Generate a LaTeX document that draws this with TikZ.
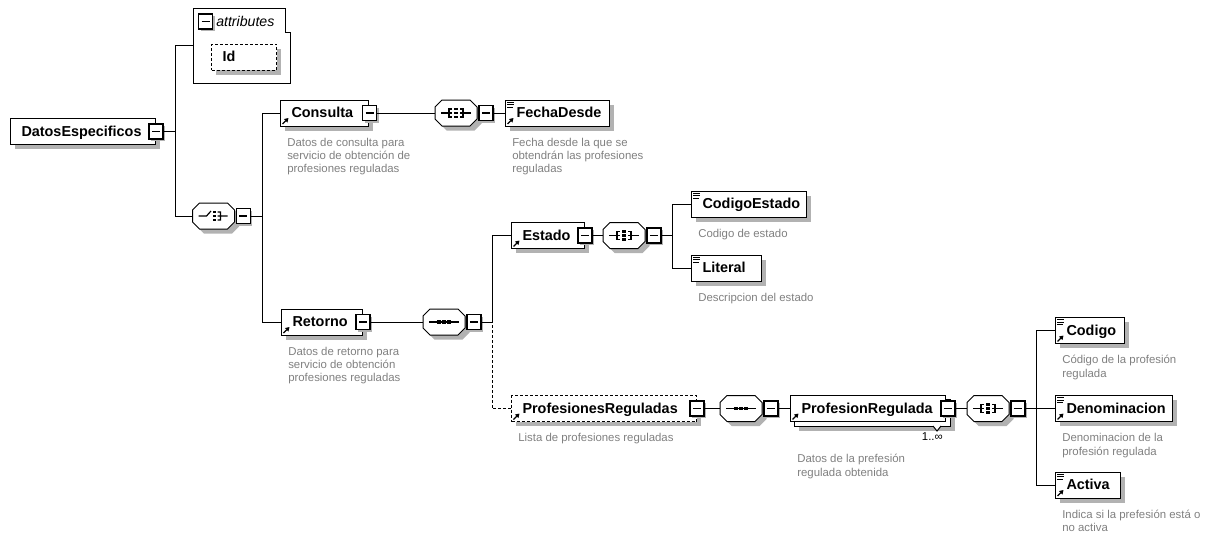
\documentclass[tikz,border=0pt]{standalone}
\usepackage{fontspec}
\setmainfont{Liberation Sans}
\usetikzlibrary{positioning}
\usetikzlibrary{shadows,arrows.meta,backgrounds}

\definecolor{shadowgray}{RGB}{178,178,178}
\definecolor{descgray}{RGB}{128,128,128}

\tikzset{
  elembase/.style={draw, fill=white, line width=0.75pt, anchor=west,
    minimum height=19.5pt, inner xsep=8.25pt, inner ysep=0pt,
    text width=#1, align=left, text height=7.8pt, text depth=0.5pt,
    execute at begin node={\hyphenpenalty=10000},
    font=\fontsize{10.8}{12}\selectfont\bfseries},
  elem/.style={elembase=#1,
    drop shadow={shadow xshift=3.4pt, shadow yshift=-3.4pt, fill=shadowgray, opacity=1}},
  optional/.style={dash pattern=on 2.25pt off 1.5pt},
  minus/.style={draw, fill=white, line width=1pt, minimum width=10.5pt,
    minimum height=11.25pt, inner sep=0pt,
    drop shadow={shadow xshift=1.5pt, shadow yshift=-1.5pt, fill=shadowgray, opacity=1},
    path picture={\draw[line width=1pt]
      ([xshift=2.25pt]path picture bounding box.west) --
      ([xshift=-2.25pt]path picture bounding box.east);}},
  desc/.style={inner sep=0pt, align=left, text=descgray,
    font=\fontsize{8.55}{10.1}\selectfont},
  link/.style={line width=0.75pt},
  pics/octa/.style={code={
    \fill[shadowgray, shift={(4.5,4.5)}] (-21,-6) -- (-14,-13) -- (14,-13) -- (21,-6)
      -- (21,6) -- (14,13) -- (-14,13) -- (-21,6) -- cycle;
    \draw[link, fill=white] (-21,-6) -- (-14,-13) -- (14,-13) -- (21,-6)
      -- (21,6) -- (14,13) -- (-14,13) -- (-21,6) -- cycle;
    \node[inner sep=0pt, minimum width=31.5pt, minimum height=19.5pt] (-b) {};
    \pic {#1};
  }},
  pics/seqicon/.style={code={
    \draw[line width=0.9pt] (-15,0) -- (15,0);
    \foreach \dx in {-5,0,5} \fill (\dx-1.6,-1.6) rectangle (\dx+1.6,1.6);
  }},
  pics/allicon/.style={code={
    \draw[line width=0.9pt] (-15,0) -- (-4,0) (-4,-4) -- (-7,-4) -- (-7,4) -- (-4,4)
      (15,0) -- (4,0) (4,-4) -- (7,-4) -- (7,4) -- (4,4);
    \foreach \dy in {-4,0,4} \fill (-1.6,\dy-1.4) rectangle (1.6,\dy+1.4);
  }},
  pics/choiceicon/.style={code={
    \draw[line width=0.9pt] (-15,0) -- (-7,0) -- (-2.5,-5) (4,-4) -- (7,-4) -- (7,4) -- (4,4)
      (4,0) -- (14,0);
    \foreach \dy in {-4,0,4} \fill (-0.5,\dy-1.4) rectangle (2.7,\dy+1.4);
  }},
  pics/refarrow/.style={code={
    \draw[line width=1pt, -{Triangle[length=3pt,width=3.5pt]}] (2.5,-2.5) -- (8.5,-8.5);
  }},
  pics/simpleicon/.style={code={
    \draw[line width=0.6pt] (2,2.5) -- (9,2.5) (2,5) -- (9,5) (2,7.5) -- (8,7.5);
  }}
}

\begin{document}
\begin{tikzpicture}[x=0.75pt, y=-0.75pt]
  \useasboundingbox (0,0) rectangle (1212,536);

  % root element and its attributes
  \node[elem=92.25pt] (datos) at (10,131.5) {DatosEspecificos};
  \node[minus] (datos-m) at (datos.east) {};

  \node[anchor=north west, inner sep=0pt, minimum width=72.75pt, minimum height=56.25pt] (attr) at (193,8) {};
  \draw[link, fill=white] (attr.north west) -- ++(92,0) -- ++(0,24) -- ++(5,0) |- (attr.south west) -- cycle;
  \node[minus] (attr-m) at (205.5,21.5) {};
  \node[anchor=west, inner sep=0pt, font=\fontsize{10.6}{12}\selectfont\itshape] (attr-t) at (216,21) {attributes};
  \node[elem=32.25pt, optional] (id) at (211,57) {Id};

  \pic (ch) at (213.5,216) {octa=choiceicon};
  \node[minus, right=0.75pt of ch-b] (ch-m) {};

  \coordinate (t1) at (175,131.5);
  \draw[link] (datos-m.east) -- (t1) (attr.west) -| (t1) (ch-b.west) -| (t1);

  % Consulta
  \node[elem=49.5pt] (consulta) at (280,113) {Consulta};
  \node[minus] (consulta-m) at ([xshift=0.375pt]consulta.east) {};
  \pic (c1) at (456,113) {octa=allicon};
  \node[minus, right=0.75pt of c1-b] (c1-m) {};
  \node[elem=61.5pt] (fecha) at (505,113) {FechaDesde};

  % Retorno
  \node[elem=44.25pt] (retorno) at (281,322) {Retorno};
  \node[minus] (retorno-m) at (retorno.east) {};
  \pic (c2) at (444,322) {octa=seqicon};
  \node[minus, right=0.75pt of c2-b] (c2-m) {};

  \coordinate (t2) at (262,216);
  \draw[link] (ch-m.east) -- (t2) (consulta.west) -| (t2) (retorno.west) -| (t2);
  \draw[link] (consulta-m.east) -- (c1-b.west) (c1-m.east) -- (fecha.west);
  \draw[link] (retorno-m.east) -- (c2-b.west);

  % Estado
  \node[elem=38.25pt] (estado) at (511,235.5) {Estado};
  \node[minus] (estado-m) at (estado.east) {};
  \pic (c3) at (624,235.5) {octa=allicon};
  \node[minus, right=0.75pt of c3-b] (c3-m) {};
  \node[elem=69.75pt] (codest) at (691,204) {CodigoEstado};
  \node[elem=36pt] (literal) at (691,268) {Literal};

  \coordinate (t4) at (672,235.5);
  \draw[link] (estado-m.east) -- (c3-b.west) (c3-m.east) -- (t4)
    (codest.west) -| (t4) (literal.west) -| (t4);

  % ProfesionesReguladas
  \node[elem=122.25pt, optional] (profs) at (511,408.5) {ProfesionesReguladas};
  \node[minus] (profs-m) at (profs.east) {};
  \pic (c4) at (741,408.5) {octa=seqicon};
  \node[minus, right=0.75pt of c4-b] (c4-m) {};

  \coordinate (t3) at (492,322);
  \draw[link] (c2-m.east) -- (t3) (estado.west) -| (t3);
  \draw[link, optional] (profs.west) -| (t3);

  % ProfesionRegulada (1..unbounded)
  \node[elembase=99.75pt] (profr) at (790,408.5) {ProfesionRegulada};
  \begin{scope}[on background layer]
    \draw[link, fill=white, drop shadow={shadow xshift=3.4pt, shadow yshift=-3.4pt, fill=shadowgray, opacity=1}]
      ([shift={(4,4)}]profr.north west) rectangle ([shift={(4,4)}]profr.south east);
  \end{scope}
  \draw[link, fill=white] ([shift={(-13,4)}]profr.south east) -- ++(4,5) -- ++(4,-5);
  \node[minus] (profr-m) at ([xshift=1.5pt]profr.east) {};
  \node[anchor=north east, inner sep=0pt, font=\fontsize{8.55}{10}\selectfont] (profr-n)
    at ([shift={(-3,10)}]profr.south east) {1..∞};
  \pic (c5) at (988,408.5) {octa=allicon};
  \node[minus, right=0.75pt of c5-b] (c5-m) {};

  \draw[link] (profs-m.east) -- (c4-b.west) (c4-m.east) -- (profr.west)
    (profr-m.east) -- (c5-b.west);

  \node[elem=35.25pt] (codigo) at (1055,330.5) {Codigo};
  \node[elem=71.25pt] (denom) at (1055,408.5) {Denominacion};
  \node[elem=32.25pt] (activa) at (1055,485) {Activa};

  \coordinate (t5) at (1036,408.5);
  \draw[link] (c5-m.east) -- (t5) (codigo.west) -| (t5) (denom.west) -| (t5)
    (activa.west) -| (t5);

  % icons
  \foreach \n in {consulta,fecha,retorno,estado,profs,profr,codigo,denom,activa}
    \pic at (\n.south west) {refarrow};
  \foreach \n in {fecha,codest,literal,codigo,denom,activa}
    \pic at (\n.north west) {simpleicon};

  % annotations
  \node[desc, below right=8.25pt and 5.25pt of consulta.south west] (consulta-d)
    {Datos de consulta para\\servicio de obtención de\\profesiones reguladas};
  \node[desc, below right=8.25pt and 5.25pt of fecha.south west] (fecha-d)
    {Fecha desde la que se\\obtendrán las profesiones\\reguladas};
  \node[desc, below right=8.25pt and 5.25pt of retorno.south west] (retorno-d)
    {Datos de retorno para\\servicio de obtención\\profesiones reguladas};
  \node[desc, below right=8.25pt and 5.25pt of codest.south west] (codest-d)
    {Codigo de estado};
  \node[desc, below right=8.25pt and 5.25pt of literal.south west] (literal-d)
    {Descripcion del estado};
  \node[desc, below right=8.25pt and 5.25pt of profs.south west] (profs-d)
    {Lista de profesiones reguladas};
  \node[desc, below right=24.2pt and 5.25pt of profr.south west] (profr-d)
    {Datos de la prefesión\\regulada obtenida};
  \node[desc, below right=8.25pt and 5.25pt of codigo.south west] (codigo-d)
    {Código de la profesión\\regulada};
  \node[desc, below right=8.25pt and 5.25pt of denom.south west] (denom-d)
    {Denominacion de la\\profesión regulada};
  \node[desc, below right=8.25pt and 5.25pt of activa.south west] (activa-d)
    {Indica si la prefesión está o\\no activa};
\end{tikzpicture}
\end{document}
